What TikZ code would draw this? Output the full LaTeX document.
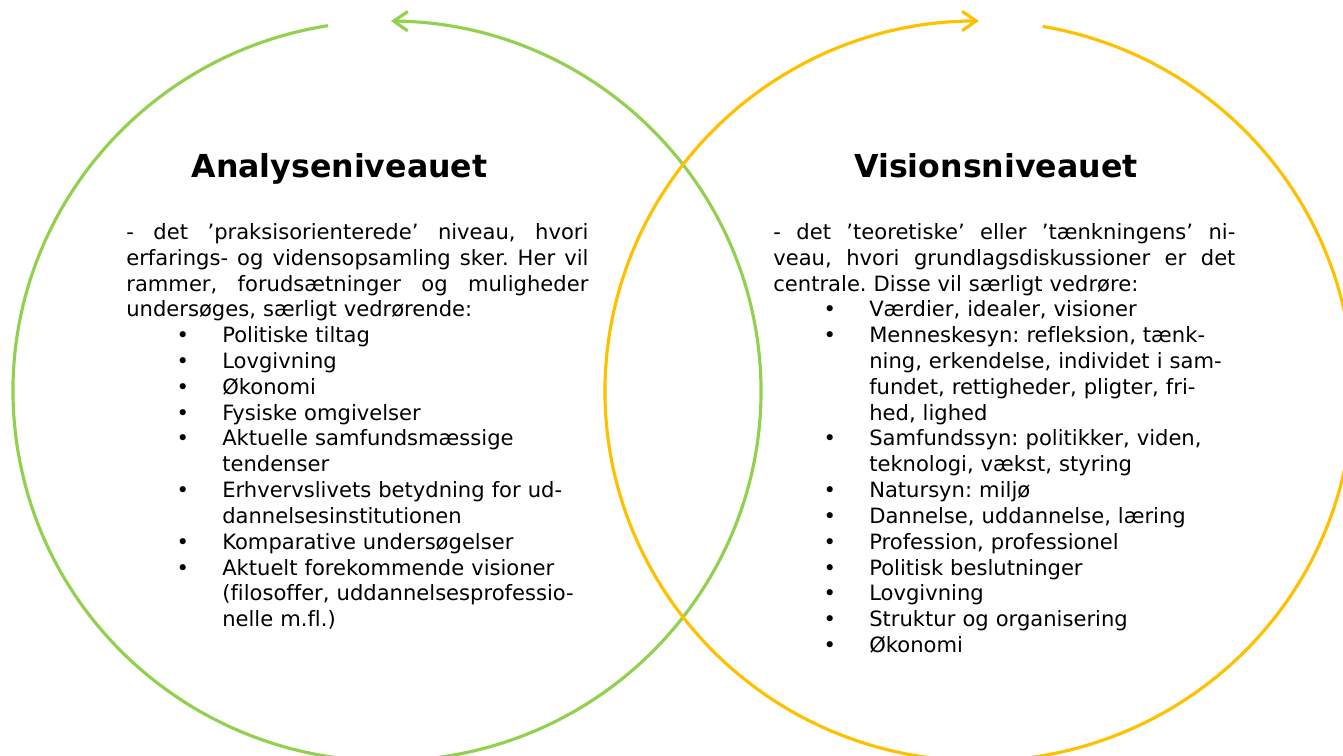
\documentclass[tikz,border=0pt]{standalone}
\usepackage{fontspec}
\setmainfont{DejaVu Sans}[Ligatures=NoCommon]
\usetikzlibrary{arrows.meta}
\definecolor{ringgreen}{HTML}{92D050}
\definecolor{ringgold}{HTML}{FFC000}
% one justified line of the opening paragraph
\newcommand{\jline}[1]{\noindent\makebox[263pt][s]{\spaceskip=.32em plus 1fil\relax #1}\par}
% one bullet point, wrapped lines go under the text
\newcommand{\bitem}[1]{\par\noindent\hangindent=54.6pt\hangafter=1\hspace*{28.6pt}\makebox[26pt][l]{•}#1\par}

\begin{document}
\begin{tikzpicture}[x=0.02cm, y=0.02cm,
    ring/.style = {line width=1.8pt, -{Straight Barb[length=8pt,width=11pt]}},
    heading/.style = {font=\fontsize{18}{22}\selectfont\bfseries, anchor=base, inner sep=0pt},
    column/.style = {font=\fontsize{12}{14.7}\selectfont\frenchspacing, text width=320pt, anchor=north west, inner sep=0pt}]
\useasboundingbox (0,0) rectangle (1343,756);
\coordinate (gc) at (387,365);
\coordinate (yc) at (979,365);
% the two rings
\draw[ring, ringgreen] (gc) ++(99.1:374 and 370) arc[start angle=99.1, end angle=449.4, x radius=374, y radius=370];
\draw[ring, ringgold] (yc) ++(80.2:374 and 370) arc[start angle=80.2, end angle=-270, x radius=374, y radius=370];
% headings
\node[heading] (analyse) at (339.5,578) {Analyseniveauet};
\node[heading] (vision) at (996,578) {Visionsniveauet};
% left column
\node[column] (analysetext) at (126,533) {%
  \jline{- det ’praksisorienterede’ niveau, hvori}
  \jline{erfarings- og vidensopsamling sker. Her vil}
  \jline{rammer, forudsætninger og muligheder}
  \noindent undersøges, særligt vedrørende:\par
  \bitem{Politiske tiltag}
  \bitem{Lovgivning}
  \bitem{Økonomi}
  \bitem{Fysiske omgivelser}
  \bitem{Aktuelle samfundsmæssige\newline tendenser}
  \bitem{Erhvervslivets betydning for ud-\newline dannelsesinstitutionen}
  \bitem{Komparative undersøgelser}
  \bitem{Aktuelt forekommende visioner\newline (filosoffer, uddannelsesprofessio-\newline nelle m.fl.)}
};
% right column
\node[column] (visiontext) at (773,533) {%
  \jline{- det ’teoretiske’ eller ’tænkningens’ ni-}
  \jline{veau, hvori grundlagsdiskussioner er det}
  \noindent centrale. Disse vil særligt vedrøre:\par
  \bitem{Værdier, idealer, visioner}
  \bitem{Menneskesyn: refleksion, tænk-\newline ning, erkendelse, individet i sam-\newline fundet, rettigheder, pligter, fri-\newline hed, lighed}
  \bitem{Samfundssyn: politikker, viden,\newline teknologi, vækst, styring}
  \bitem{Natursyn: miljø}
  \bitem{Dannelse, uddannelse, læring}
  \bitem{Profession, professionel}
  \bitem{Politisk beslutninger}
  \bitem{Lovgivning}
  \bitem{Struktur og organisering}
  \bitem{Økonomi}
};
\end{tikzpicture}
\end{document}
